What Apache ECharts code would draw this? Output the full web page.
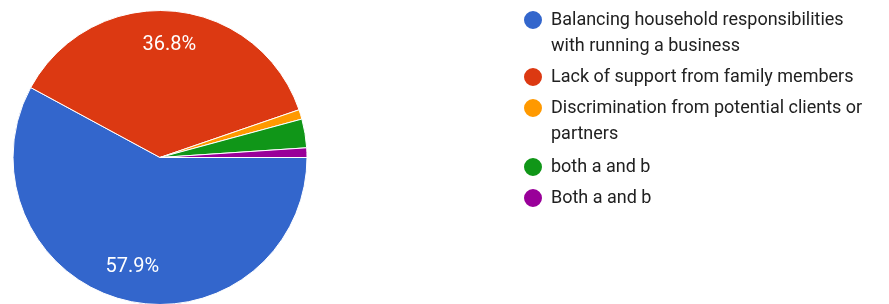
<!DOCTYPE html>
<html>
<head>
<meta charset="utf-8">
<script src="https://cdn.jsdelivr.net/npm/echarts@6/dist/echarts.min.js"></script>
<style>
  html, body { margin: 0; padding: 0; background: #fff; }
  #chart { width: 889px; height: 304px; }
</style>
</head>
<body>
<div id="chart"></div>
<script>
// answer options (names must stay distinct: "both" / "Both")
const categories = [
  'Balancing household responsibilities with running a business',
  'Lack of support from family members',
  'Discrimination from potential clients or partners',
  'both a and b',
  'Both a and b'
];
// legend text, wrapped the way the form shows it
const legendLabels = [
  'Balancing household responsibilities\nwith running a business',
  'Lack of support from family members',
  'Discrimination from potential clients or\npartners',
  'both a and b',
  'Both a and b'
];
const counts = [55, 35, 1, 3, 1];
const colors = ['#3366cc', '#dc3912', '#ff9900', '#109618', '#990099'];

const total = counts.reduce((a, b) => a + b, 0);
const pieData = categories.map((name, i) => ({
  name: name,
  value: counts[i],
  itemStyle: { color: colors[i] }
}));

// icon centre y for each legend row
const legendCentres = [20, 77, 108, 167, 198];
const lineH = 26.5;
const font = 'Roboto';

const legends = categories.map((name, i) => {
  const wrapped = legendLabels[i].indexOf('\n') >= 0;
  return {
    orient: 'vertical',
    left: 522,
    top: legendCentres[i] - (wrapped ? lineH * 1.5 : lineH / 2),
    padding: 0,
    itemWidth: 26,
    itemHeight: 20,
    icon: 'circle',
    data: [name],
    // blank first line so the dot lines up with the first text line
    formatter: () => (wrapped ? '\n' : '') + legendLabels[i],
    textStyle: { fontFamily: font, fontSize: 18, color: '#212121', lineHeight: lineH }
  };
});

const chart = echarts.init(document.getElementById('chart'));
chart.setOption({
  animation: false,
  legend: legends,
  series: [
    {
      type: 'pie',
      center: [160, 157.5],
      radius: [0, 147],
      startAngle: 0,
      clockwise: true,
      avoidLabelOverlap: false,
      itemStyle: { borderColor: '#fff', borderWidth: 1 },
      label: { show: false },
      labelLine: { show: false },
      emphasis: { scale: false },
      data: pieData
    },
    {
      // transparent ring that only carries the percentage labels
      type: 'pie',
      center: [160, 157.5],
      radius: [73, 147],
      startAngle: 0,
      clockwise: true,
      silent: true,
      avoidLabelOverlap: false,
      itemStyle: { color: 'rgba(0,0,0,0)', borderWidth: 0 },
      label: {
        show: true,
        position: 'inside',
        fontFamily: font,
        fontSize: 20,
        color: '#fff',
        formatter: p => {
          const pct = p.value / total * 100;
          return pct >= 5 ? pct.toFixed(1) + '%' : '';
        }
      },
      labelLine: { show: false },
      data: categories.map((name, i) => ({ name: name, value: counts[i] }))
    }
  ]
});
window.addEventListener('resize', () => chart.resize());
</script>
</body>
</html>
